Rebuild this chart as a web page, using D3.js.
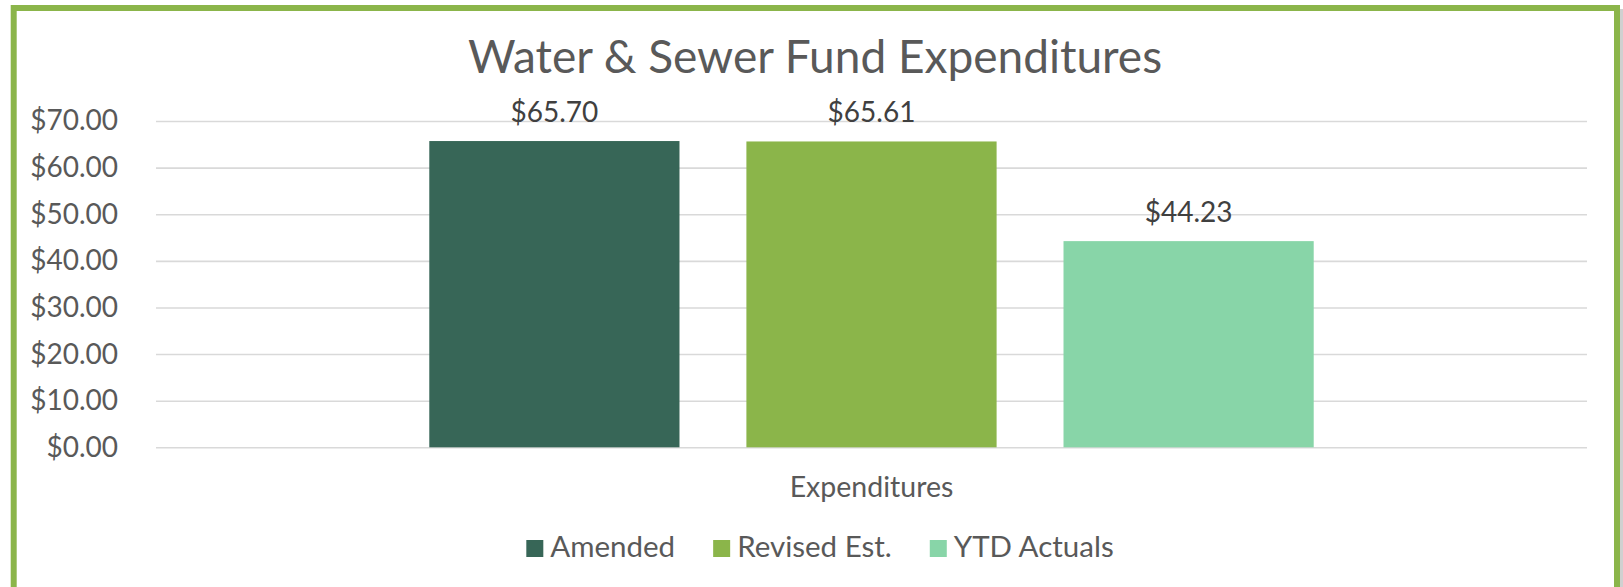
<!DOCTYPE html>
<html>
<head>
<meta charset="utf-8">
<script src="https://cdn.jsdelivr.net/npm/d3@7"></script>
<style>
	body { margin: 0; background: #ffffff; }
	svg text { font-family: "Lato", "Open Sans", sans-serif; }
</style>
</head>
<body>
<div id="chart"></div>
<script>
// chart data
const categories = ["Expenditures"];
const series = ["Amended", "Revised Est.", "YTD Actuals"];
const values = [65.70, 65.61, 44.23];
const series_colors = ["#376657", "#8bb54a", "#88d5a8"];
const y_ticks = [0, 10, 20, 30, 40, 50, 60, 70];
const title_text = "Water & Sewer Fund Expenditures";

const width = 1623,
	height = 587;
const plot = { left: 156, right: 1587, top: 121, bottom: 447.3 };

const svg = d3
	.select("#chart")
	.append("svg")
	.attr("width", width)
	.attr("height", height);

// green frame with a light shadow on the right
svg
	.append("rect")
	.attr("x", 1619)
	.attr("y", 9)
	.attr("width", 4)
	.attr("height", height)
	.style("fill", "#d0d0d0");
svg
	.append("rect")
	.attr("x", 13.7)
	.attr("y", 8)
	.attr("width", 1603.3)
	.attr("height", height + 20)
	.style("fill", "white")
	.style("stroke", "#8bb54a")
	.style("stroke-width", 6);

const y = d3
	.scaleLinear()
	.domain([0, 70])
	.range([plot.bottom, plot.top]);

// one group for the category, one band per series inside it
const x0 = d3
	.scaleBand()
	.domain(categories)
	.range([plot.left, plot.right])
	.paddingInner(0)
	.paddingOuter(0.309);

const x1 = d3
	.scaleBand()
	.domain(series)
	.range([0, x0.bandwidth()])
	.paddingInner(0.211)
	.paddingOuter(0);

const color = d3.scaleOrdinal().domain(series).range(series_colors);

// gridlines + tick labels
const y_axis = svg
	.append("g")
	.attr("transform", "translate(" + plot.left + ",0)")
	.call(
		d3
			.axisLeft(y)
			.tickValues(y_ticks)
			.tickSize(-(plot.right - plot.left))
			.tickPadding(38)
			.tickFormat((d) => "$" + d3.format(".2f")(d))
	);
y_axis.select(".domain").remove();
y_axis
	.selectAll(".tick line")
	.style("stroke", "#d9d9d9")
	.style("stroke-width", 1.6);
y_axis
	.selectAll(".tick text")
	.style("font-size", "28px")
	.style("fill", "#595959");

// bars
const group = svg
	.selectAll("g.category")
	.data(categories)
	.enter()
	.append("g")
	.attr("class", "category")
	.attr("transform", (d) => "translate(" + x0(d) + ",0)");

const bar_data = series.map((s, i) => ({ key: s, value: values[i] }));

group
	.selectAll("rect")
	.data(bar_data)
	.enter()
	.append("rect")
	.attr("x", (d) => x1(d.key))
	.attr("y", (d) => y(d.value))
	.attr("width", x1.bandwidth())
	.attr("height", (d) => y(0) - y(d.value))
	.style("fill", (d) => color(d.key));

// data labels
group
	.selectAll("text.value")
	.data(bar_data)
	.enter()
	.append("text")
	.attr("class", "value")
	.attr("x", (d) => x1(d.key) + x1.bandwidth() / 2)
	.attr("y", (d) => y(d.value) - 19)
	.attr("text-anchor", "middle")
	.style("font-size", "28px")
	.style("fill", "#404040")
	.text((d) => "$" + d3.format(".2f")(d.value));

// category label
svg
	.selectAll("text.cat")
	.data(categories)
	.enter()
	.append("text")
	.attr("class", "cat")
	.attr("x", (d) => x0(d) + x0.bandwidth() / 2)
	.attr("y", 497)
	.attr("text-anchor", "middle")
	.style("font-size", "28.5px")
	.style("fill", "#595959")
	.text((d) => d);

// title
svg
	.append("text")
	.attr("x", 815)
	.attr("y", 73)
	.attr("text-anchor", "middle")
	.style("font-size", "46px")
	.style("fill", "#595959")
	.text(title_text);

// legend, centred on the frame
const legend = svg.append("g");
let lx = 0;
series.forEach((s, i) => {
	const item = legend.append("g").attr("transform", "translate(" + lx + ",0)");
	item
		.append("rect")
		.attr("x", 0)
		.attr("y", 540)
		.attr("width", 17)
		.attr("height", 17)
		.style("fill", color(s));
	const t = item
		.append("text")
		.attr("x", 24)
		.attr("y", 557)
		.style("font-size", "29.5px")
		.style("fill", "#595959")
		.text(s);
	lx += 24 + t.node().getComputedTextLength() + 38;
});
const legend_w = lx - 38;
legend.attr("transform", "translate(" + (820 - legend_w / 2) + ",0)");
</script>
</body>
</html>
